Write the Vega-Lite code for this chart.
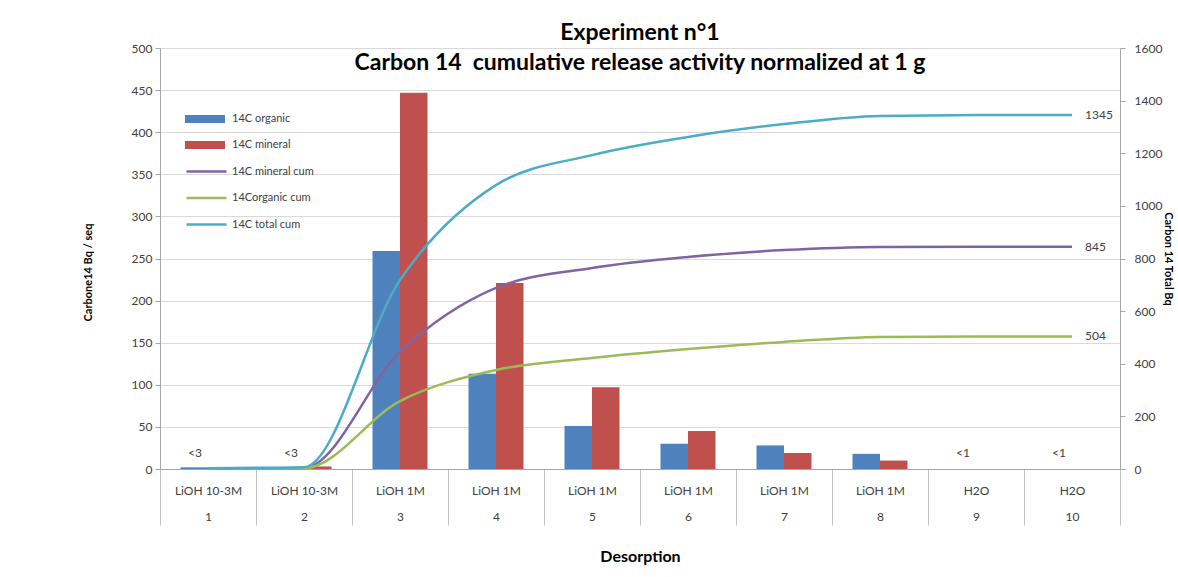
{
  "$schema": "https://vega.github.io/schema/vega-lite/v6.json",
  "width": 960,
  "height": 421,
  "autosize": {"type": "none"},
  "padding": {"left": 160, "top": 48, "right": 58, "bottom": 108},
  "background": "white",
  "config": {
    "view": {"stroke": null},
    "font": "Lato",
    "axis": {"labelFont": "Lato", "titleFont": "Lato", "labelColor": "#404040", "titleColor": "black", "labelFontSize": 12, "domainColor": "#a6a6a6", "tickColor": "#a6a6a6", "gridColor": "#d9d9d9"},
    "legend": {"labelFont": "Lato", "labelFontSize": 11, "labelColor": "#404040"}
  },
  "title": {
    "text": "Experiment n°1",
    "subtitle": "Carbon 14\u00a0 cumulative release activity normalized at 1 g",
    "fontSize": 23,
    "subtitleFontSize": 23,
    "fontWeight": "bold",
    "subtitleFontWeight": "bold",
    "color": "black",
    "subtitleColor": "black",
    "font": "Lato",
    "subtitleFont": "Lato",
    "anchor": "middle",
    "offset": -33,
    "subtitlePadding": 7
  },
  "datasets": {
    "bars": [
      {"d": 1, "series": "14C organic", "value": 2},
      {"d": 1, "series": "14C mineral", "value": 1},
      {"d": 2, "series": "14C organic", "value": 0.5},
      {"d": 2, "series": "14C mineral", "value": 3},
      {"d": 3, "series": "14C organic", "value": 259},
      {"d": 3, "series": "14C mineral", "value": 447},
      {"d": 4, "series": "14C organic", "value": 113},
      {"d": 4, "series": "14C mineral", "value": 221},
      {"d": 5, "series": "14C organic", "value": 51},
      {"d": 5, "series": "14C mineral", "value": 97},
      {"d": 6, "series": "14C organic", "value": 30},
      {"d": 6, "series": "14C mineral", "value": 45},
      {"d": 7, "series": "14C organic", "value": 28},
      {"d": 7, "series": "14C mineral", "value": 19},
      {"d": 8, "series": "14C organic", "value": 18},
      {"d": 8, "series": "14C mineral", "value": 10},
      {"d": 9, "series": "14C organic", "value": 0},
      {"d": 9, "series": "14C mineral", "value": 0},
      {"d": 10, "series": "14C organic", "value": 0},
      {"d": 10, "series": "14C mineral", "value": 0}
    ],
    "notes": [
      {"d": 1, "note": "<3"},
      {"d": 2, "note": "<3"},
      {"d": 9, "note": "<1"},
      {"d": 10, "note": "<1"}
    ],
    "cum": [
      {"d": 1, "series": "14C mineral cum", "cum": 1},
      {"d": 2, "series": "14C mineral cum", "cum": 4},
      {"d": 3, "series": "14C mineral cum", "cum": 445},
      {"d": 4, "series": "14C mineral cum", "cum": 688},
      {"d": 5, "series": "14C mineral cum", "cum": 764},
      {"d": 6, "series": "14C mineral cum", "cum": 806},
      {"d": 7, "series": "14C mineral cum", "cum": 832},
      {"d": 8, "series": "14C mineral cum", "cum": 844},
      {"d": 9, "series": "14C mineral cum", "cum": 845},
      {"d": 10, "series": "14C mineral cum", "cum": 845},
      {"d": 1, "series": "14Corganic cum", "cum": 2},
      {"d": 2, "series": "14Corganic cum", "cum": 3},
      {"d": 3, "series": "14Corganic cum", "cum": 258},
      {"d": 4, "series": "14Corganic cum", "cum": 376},
      {"d": 5, "series": "14Corganic cum", "cum": 422},
      {"d": 6, "series": "14Corganic cum", "cum": 456},
      {"d": 7, "series": "14Corganic cum", "cum": 483},
      {"d": 8, "series": "14Corganic cum", "cum": 502},
      {"d": 9, "series": "14Corganic cum", "cum": 504},
      {"d": 10, "series": "14Corganic cum", "cum": 504},
      {"d": 1, "series": "14C total cum", "cum": 3},
      {"d": 2, "series": "14C total cum", "cum": 7},
      {"d": 3, "series": "14C total cum", "cum": 718},
      {"d": 4, "series": "14C total cum", "cum": 1079},
      {"d": 5, "series": "14C total cum", "cum": 1193},
      {"d": 6, "series": "14C total cum", "cum": 1262},
      {"d": 7, "series": "14C total cum", "cum": 1311},
      {"d": 8, "series": "14C total cum", "cum": 1342},
      {"d": 9, "series": "14C total cum", "cum": 1345},
      {"d": 10, "series": "14C total cum", "cum": 1345}
    ]
  },
  "layer": [
    {
      "layer": [
        {
          "data": {"name": "bars"},
          "mark": {"type": "bar"},
          "encoding": {
            "x": {
              "field": "d",
              "type": "ordinal",
              "scale": {"paddingInner": 0, "paddingOuter": 0},
              "axis": {
                "title": "Desorption",
                "titleFontSize": 16,
                "titleFontWeight": "bold",
                "titlePadding": 23,
                "labelAngle": 0,
                "labelExpr": "datum.label ? [datum.value <= 2 ? 'LiOH 10-3M' : datum.value <= 8 ? 'LiOH 1M' : 'H2O', datum.label] : ''",
                "labelLineHeight": 26,
                "tickBand": "extent",
                "tickSize": 56,
                "labelPadding": -40,
                "tickColor": "#bfbfbf",
                "domainColor": "#a6a6a6",
                "grid": false
              }
            },
            "xOffset": {"field": "series", "type": "nominal", "sort": ["14C organic", "14C mineral"], "scale": {"paddingInner": 0, "paddingOuter": 0.745}},
            "y": {
              "field": "value",
              "type": "quantitative",
              "scale": {"domain": [0, 500], "nice": false},
              "axis": {
                "title": "Carbone14 Bq / seq",
                "titleFontSize": 11,
                "titleFontWeight": "bold",
                "titlePadding": 38,
                "titleY": 224,
                "labelPadding": 3,
                "values": [0, 50, 100, 150, 200, 250, 300, 350, 400, 450, 500],
                "grid": true,
                "tickSize": 5
              }
            },
            "fill": {
              "field": "series",
              "type": "nominal",
              "sort": ["14C organic", "14C mineral"],
              "scale": {"domain": ["14C organic", "14C mineral"], "range": ["#4F81BD", "#C0504D"]},
              "legend": {
                "orient": "none",
                "legendX": 25,
                "legendY": 61,
                "title": null,
                "padding": 0,
                "symbolType": "M-1,-0.4H3V0.4H-1Z",
                "symbolSize": 400,
                "symbolStrokeWidth": 0,
                "labelOffset": 27,
                "rowPadding": 11
              }
            }
          }
        },
        {
          "data": {"name": "notes"},
          "mark": {"type": "text", "fontSize": 12, "color": "#404040", "dx": -13, "dy": -16, "align": "center", "baseline": "middle"},
          "encoding": {
            "x": {"field": "d", "type": "ordinal"},
            "y": {"datum": 0},
            "text": {"field": "note"}
          }
        }
      ]
    },
    {
      "layer": [
        {
          "data": {"name": "cum"},
          "mark": {"type": "line", "strokeWidth": 2.5, "interpolate": "monotone"},
          "encoding": {
            "x": {"field": "d", "type": "ordinal"},
            "y": {
              "field": "cum",
              "type": "quantitative",
              "scale": {"domain": [0, 1600], "nice": false},
              "axis": {
                "orient": "right",
                "title": "Carbon 14 Total Bq",
                "titleFontSize": 11,
                "titleFontWeight": "bold",
                "titlePadding": 1,
                "labelPadding": 9,
                "format": "d",
                "values": [0, 200, 400, 600, 800, 1000, 1200, 1400, 1600],
                "grid": false,
                "tickSize": 5
              }
            },
            "stroke": {
              "field": "series",
              "type": "nominal",
              "sort": ["14C mineral cum", "14Corganic cum", "14C total cum"],
              "scale": {"domain": ["14C mineral cum", "14Corganic cum", "14C total cum"], "range": ["#8064A2", "#9BBB59", "#4BACC6"]},
              "legend": {
                "orient": "none",
                "legendX": 25,
                "legendY": 112,
                "title": null,
                "padding": 0,
                "symbolType": "M-1,0H3",
                "symbolSize": 400,
                "symbolStrokeWidth": 2.5,
                "labelOffset": 24,
                "rowPadding": 9.5
              }
            }
          }
        },
        {
          "data": {"name": "cum"},
          "transform": [{"filter": "datum.d == 10"}],
          "mark": {"type": "text", "fontSize": 12, "color": "#404040", "align": "left", "dx": 13, "baseline": "middle"},
          "encoding": {
            "x": {"field": "d", "type": "ordinal"},
            "y": {"field": "cum", "type": "quantitative"},
            "text": {"field": "cum"}
          }
        }
      ]
    }
  ],
  "resolve": {"scale": {"y": "independent"}}
}
